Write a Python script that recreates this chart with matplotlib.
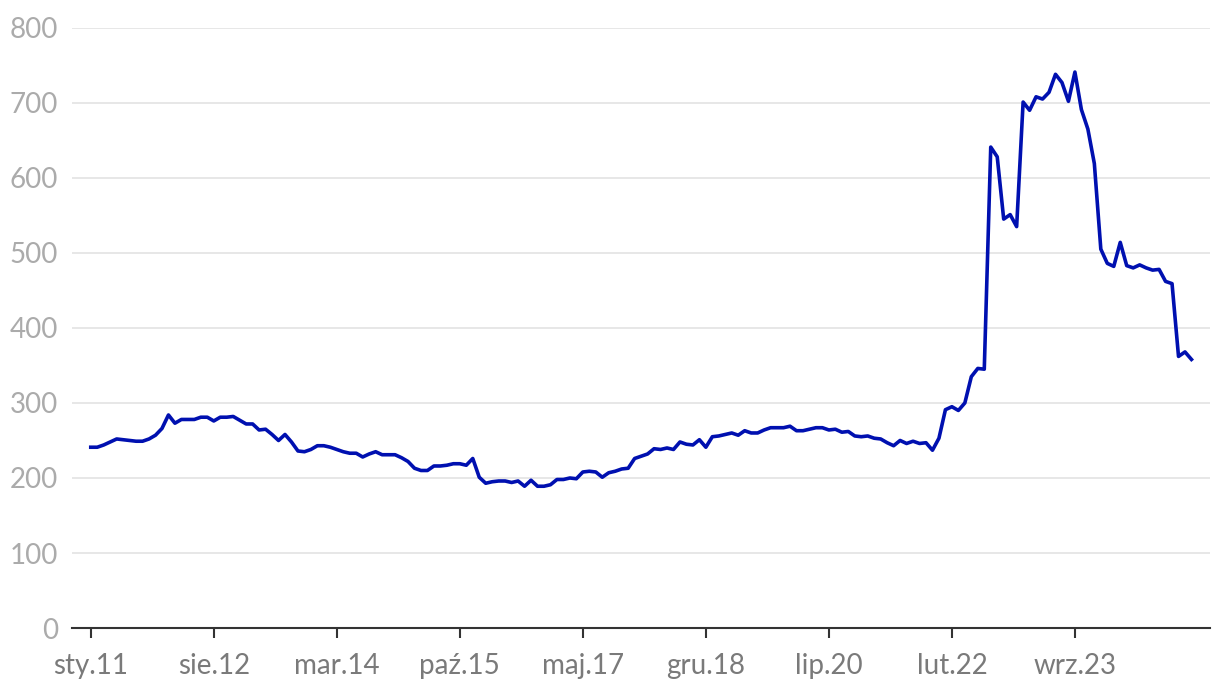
import numpy as np
import pandas as pd
import matplotlib
matplotlib.use('Agg')
import matplotlib.pyplot as plt

# monthly values, Jan 2011 onwards
values = [
    241, 241, 244, 248, 252, 251, 250, 249, 249, 252,
    257, 266, 284, 273, 278, 278, 278, 281, 281, 276,
    281, 281, 282, 277, 272, 272, 264, 265, 258, 250,
    258, 248, 236, 235, 238, 243, 243, 241, 238, 235,
    233, 233, 228, 232, 235, 231, 231, 231, 227, 222,
    213, 210, 210, 216, 216, 217, 219, 219, 217, 226,
    201, 193, 195, 196, 196, 194, 196, 189, 197, 189,
    189, 191, 198, 198, 200, 199, 208, 209, 208, 201,
    207, 209, 212, 213, 226, 229, 232, 239, 238, 240,
    238, 248, 245, 244, 251, 241, 255, 256, 258, 260,
    257, 263, 260, 260, 264, 267, 267, 267, 269, 263,
    263, 265, 267, 267, 264, 265, 261, 262, 256, 255,
    256, 253, 252, 247, 243, 250, 246, 249, 246, 247,
    237, 253, 291, 295, 290, 300, 335, 346, 345, 641,
    628, 545, 551, 535, 701, 690, 708, 705, 714, 738,
    727, 702, 741, 691, 665, 619, 505, 486, 482, 514,
    483, 480, 484, 480, 477, 478, 462, 459, 362, 368,
    358,
]
months = pd.date_range('2011-01-01', periods=len(values), freq='MS')
pl_months = ['sty', 'lut', 'mar', 'kwi', 'maj', 'cze',
             'lip', 'sie', 'wrz', 'paź', 'lis', 'gru']
tick_idx = list(range(0, len(values), 19))
tick_labels = [f"{pl_months[months[i].month - 1]}.{months[i].strftime('%y')}" for i in tick_idx]
y_ticks = [0, 100, 200, 300, 400, 500, 600, 700, 800]

plt.rcParams['font.family'] = ['Lato', 'DejaVu Sans']

fig = plt.figure(figsize=(12.2, 6.94), dpi=100)
ax = fig.add_axes([0.059, 0.095, 0.933, 0.865])

x = np.arange(len(values))
ax.plot(x, values, color='#0010b0', linewidth=2.6, zorder=3)

ax.set_ylim(0, 800)
ax.set_xlim(-2.9, 172.9)
ax.set_yticks(y_ticks)
ax.set_yticklabels([str(v) for v in y_ticks])
ax.set_xticks(tick_idx)
ax.set_xticklabels(tick_labels)

ax.grid(axis='y', color='#e3e3e3', linewidth=1.2)
ax.set_axisbelow(True)
for s in ['top', 'right', 'left']:
    ax.spines[s].set_visible(False)
ax.spines['bottom'].set_color('#333333')
ax.spines['bottom'].set_linewidth(1.5)
ax.spines['bottom'].set_zorder(4)

ax.tick_params(axis='y', length=0, pad=10, labelsize=20, labelcolor='#ababab')
ax.tick_params(axis='x', length=7, width=1.5, color='#333333', pad=11,
               labelsize=20, labelcolor='#7a7a7a')

fig.savefig('out.png', dpi=100)
